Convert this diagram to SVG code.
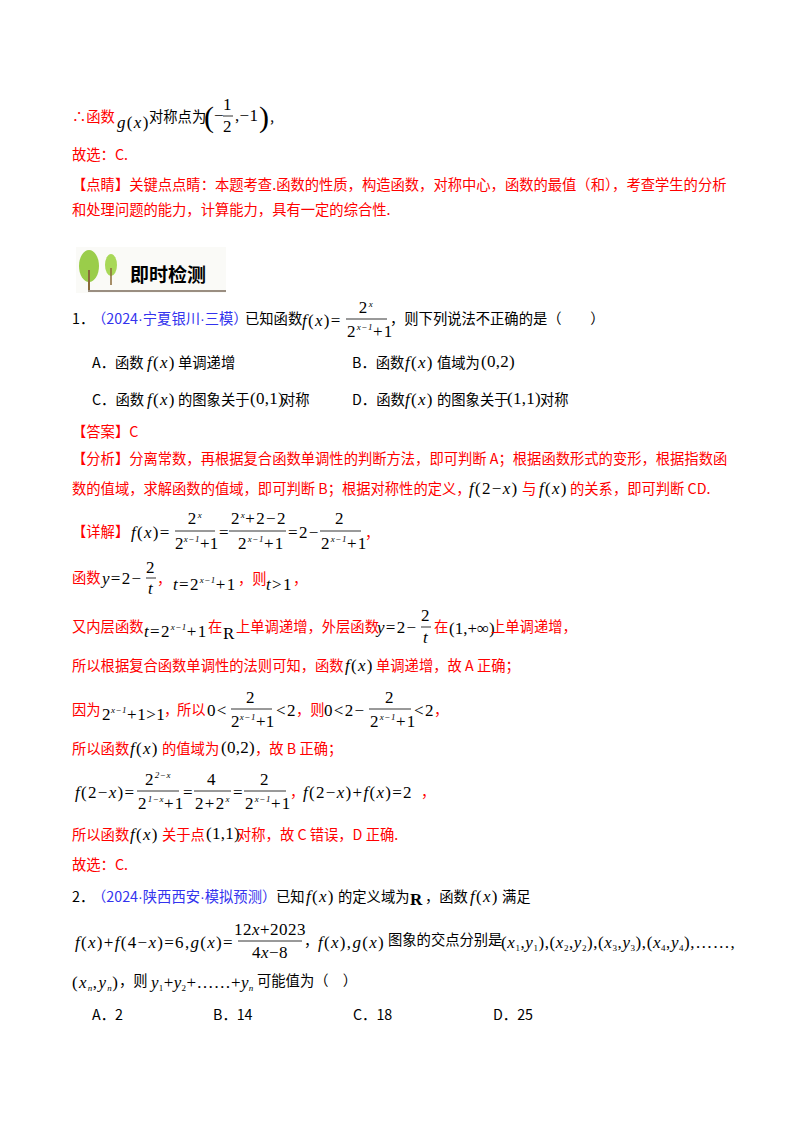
<svg xmlns="http://www.w3.org/2000/svg" width="800" height="1132" viewBox="0 0 800 1132">
<style>
text{font-family:"Noto Sans CJK SC","Liberation Sans",sans-serif;font-size:14.3px;fill:#000}
.r{fill:#ff0000}.b{fill:#3333ee}
.d{font-family:"Liberation Sans",sans-serif}
.m{font-family:"Liberation Serif",serif;font-style:italic;font-size:17px;letter-spacing:1.3px}
.n{font-family:"Liberation Serif",serif;font-style:normal;font-size:17px;letter-spacing:1.3px}
.t{letter-spacing:0.3px}
.up{font-size:9px;font-style:italic;letter-spacing:0.5px}
.c{text-anchor:middle}
.big{font-family:"Liberation Serif",serif;font-size:30px;font-weight:100}
line.f{stroke:#000;stroke-width:0.8}
</style>
<rect width="800" height="1132" fill="#fff"/>
<g id="top">
<text x="72" y="122" class="r">∴函数</text>
<text x="117" y="128" class="m">g<tspan class="n">(</tspan>x<tspan class="n">)</tspan></text>
<text x="149" y="122">对称点为</text>
<text x="204" y="127" class="big">(</text>
<text x="214" y="121" class="n t">−</text>
<text x="228" y="110" class="n c">1</text><line class="f" x1="223" y1="116" x2="233" y2="116"/><text x="228" y="132" class="n c">2</text>
<text x="235" y="121" class="n t">,−1</text>
<text x="259" y="127" class="big">)</text>
<text x="270" y="122">,</text>
<text x="72" y="160" class="r">故选：C.</text>
<text x="72" y="190" class="r">【点睛】关键点点睛：本题考查.函数的性质，构造函数，对称中心，函数的最值（和），考查学生的分析</text>
<text x="72" y="215" class="r">和处理问题的能力，计算能力，具有一定的综合性.</text>
</g>
<g id="header">
<rect x="76" y="247" width="150" height="46" fill="#fafaf7"/>
<ellipse cx="89" cy="266" rx="10" ry="16" fill="#9acd4a"/>
<line x1="89" y1="270" x2="89" y2="290" stroke="#8a6a3a" stroke-width="2"/>
<ellipse cx="111" cy="265" rx="6" ry="11" fill="#a8d858"/>
<line x1="111" y1="268" x2="111" y2="285" stroke="#8a6a3a" stroke-width="1.5"/>
<line x1="88" y1="291" x2="226" y2="291" stroke="#7a6a5a" stroke-width="1.5"/>
<text x="130" y="282" font-weight="bold" style="font-size:19px">即时检测</text>
</g>
<g id="q1">
<text x="72" y="324">1．</text>
<text x="92" y="324" class="b">（2024<tspan class="d">·</tspan>宁夏银川<tspan class="d">·</tspan>三模）</text>
<text x="245" y="324">已知函数</text>
<text x="302" y="326" class="m">f<tspan class="n">(</tspan>x<tspan class="n">)=</tspan></text>
<text x="366" y="313" class="n c">2<tspan class="up" dy="-6">x</tspan></text>
<line class="f" x1="346" y1="319" x2="387" y2="319"/>
<text x="347" y="337" class="n">2<tspan class="up" dy="-7">x−1</tspan><tspan dy="7">+1</tspan></text>
<text x="390" y="324">，则下列说法不正确的是（　　）</text>
<text x="92" y="368">A．函数</text>
<text x="147" y="368" class="m">f<tspan class="n">(</tspan>x<tspan class="n">)</tspan></text>
<text x="178" y="368">单调递增</text>
<text x="352" y="368">B．函数</text>
<text x="405" y="368" class="m">f<tspan class="n">(</tspan>x<tspan class="n">)</tspan></text>
<text x="437" y="368">值域为</text>
<text x="481" y="367" class="n t">(0,2)</text>
<text x="92" y="405">C．函数</text>
<text x="147" y="405" class="m">f<tspan class="n">(</tspan>x<tspan class="n">)</tspan></text>
<text x="178" y="405">的图象关于</text>
<text x="250" y="404" class="n t">(0,1)</text>
<text x="281" y="405">对称</text>
<text x="352" y="405">D．函数</text>
<text x="405" y="405" class="m">f<tspan class="n">(</tspan>x<tspan class="n">)</tspan></text>
<text x="437" y="405">的图象关于</text>
<text x="507" y="404" class="n t">(1,1)</text>
<text x="540" y="405">对称</text>
</g>
<g id="answer">
<text x="72" y="437" class="r">【答案】C</text>
<text x="72" y="464" class="r">【分析】分离常数，再根据复合函数单调性的判断方法，即可判断 A；根据函数形式的变形，根据指数函</text>
<text x="72" y="494" class="r">数的值域，求解函数的值域，即可判断 B；根据对称性的定义，</text>
<text x="469" y="494" class="m">f<tspan class="n">(2−</tspan>x<tspan class="n">)</tspan></text>
<text x="522" y="494" class="r">与</text>
<text x="539" y="494" class="m">f<tspan class="n">(</tspan>x<tspan class="n">)</tspan></text>
<text x="570" y="494" class="r">的关系，即可判断 CD.</text>

<text x="72" y="537" class="r">【详解】</text>
<text x="131" y="538" class="m">f<tspan class="n">(</tspan>x<tspan class="n">)=</tspan></text>
<text x="195" y="524" class="n c">2<tspan class="up" dy="-6">x</tspan></text>
<line class="f" x1="175" y1="531" x2="215" y2="531"/>
<text x="175" y="549" class="n t">2<tspan class="up" dy="-7">x−1</tspan><tspan dy="7">+1</tspan></text>
<text x="219" y="538" class="n">=</text>
<text x="231" y="524" class="n">2<tspan class="up" dy="-6">x</tspan><tspan dy="6">+2−2</tspan></text>
<line class="f" x1="229" y1="531" x2="286" y2="531"/>
<text x="238" y="549" class="n">2<tspan class="up" dy="-7">x−1</tspan><tspan dy="7">+1</tspan></text>
<text x="288" y="538" class="n">=2−</text>
<text x="340" y="524" class="n c">2</text>
<line class="f" x1="320" y1="531" x2="361" y2="531"/>
<text x="321" y="549" class="n">2<tspan class="up" dy="-7">x−1</tspan><tspan dy="7">+1</tspan></text>
<text x="365" y="538" class="r">，</text>

<text x="72" y="583" class="r">函数</text>
<text x="102" y="584" class="m">y<tspan class="n">=2−</tspan></text>
<text x="151" y="573" class="n c">2</text><line class="f" x1="146" y1="578" x2="156" y2="578"/><text x="151" y="594" class="m c">t</text>
<text x="157" y="584" class="r">，</text>
<text x="173" y="590" class="m">t<tspan class="n">=2</tspan><tspan class="up" dy="-7">x−1</tspan><tspan class="n" dy="7">+1</tspan></text>
<text x="238" y="584" class="r">，则</text>
<text x="266" y="590" class="m">t<tspan class="n">&gt;1</tspan></text>
<text x="293" y="584" class="r">，</text>

<text x="72" y="632" class="r">又内层函数</text>
<text x="144" y="637" class="m">t<tspan class="n">=2</tspan><tspan class="up" dy="-7">x−1</tspan><tspan class="n" dy="7">+1</tspan></text>
<text x="208" y="632" class="r">在</text>
<text x="223" y="639" class="n">R</text>
<text x="236" y="632" class="r">上单调递增，外层函数</text>
<text x="377" y="633" class="m">y<tspan class="n">=2−</tspan></text>
<text x="426" y="621" class="n c">2</text><line class="f" x1="421" y1="627" x2="431" y2="627"/><text x="426" y="643" class="m c">t</text>
<text x="434" y="632" class="r">在</text>
<text x="449" y="634" class="n" style="letter-spacing:0">(1,+∞)</text>
<text x="491" y="632" class="r">上单调递增，</text>

<text x="72" y="671" class="r">所以根据复合函数单调性的法则可知，函数</text>
<text x="345" y="671" class="m">f<tspan class="n">(</tspan>x<tspan class="n">)</tspan></text>
<text x="376" y="671" class="r">单调递增，故 A 正确；</text>

<text x="72" y="715" class="r">因为</text>
<text x="102" y="720" class="n" style="letter-spacing:0.5px">2<tspan class="up" dy="-7">x−1</tspan><tspan dy="7">+1&gt;1</tspan></text>
<text x="164" y="715" class="r">，</text>
<text x="177" y="715" class="r">所以</text>
<text x="207" y="716" class="n">0&lt;</text>
<text x="251" y="703" class="n c">2</text>
<line class="f" x1="231" y1="709" x2="272" y2="709"/>
<text x="231" y="727" class="n t">2<tspan class="up" dy="-7">x−1</tspan><tspan dy="7">+1</tspan></text>
<text x="276" y="716" class="n">&lt;2</text>
<text x="296" y="715" class="r">，则</text>
<text x="324" y="716" class="n">0&lt;2−</text>
<text x="390" y="703" class="n c">2</text>
<line class="f" x1="369" y1="709" x2="411" y2="709"/>
<text x="370" y="727" class="n">2<tspan class="up" dy="-7">x−1</tspan><tspan dy="7">+1</tspan></text>
<text x="414" y="716" class="n">&lt;2</text>
<text x="434" y="715" class="r">，</text>

<text x="72" y="754" class="r">所以函数</text>
<text x="130" y="754" class="m">f<tspan class="n">(</tspan>x<tspan class="n">)</tspan></text>
<text x="162" y="754" class="r">的值域为</text>
<text x="221" y="753" class="n t">(0,2)</text>
<text x="255" y="754" class="r">，故 B 正确；</text>

<text x="75" y="798" class="m">f<tspan class="n">(2−</tspan>x<tspan class="n">)=</tspan></text>
<text x="158" y="785" class="n c">2<tspan class="up" dy="-7">2−x</tspan></text>
<line class="f" x1="137" y1="791" x2="179" y2="791"/>
<text x="138" y="809" class="n">2<tspan class="up" dy="-7">1−x</tspan><tspan dy="7">+1</tspan></text>
<text x="183" y="798" class="n">=</text>
<text x="212" y="785" class="n c">4</text>
<line class="f" x1="194" y1="791" x2="231" y2="791"/>
<text x="195" y="809" class="n">2+2<tspan class="up" dy="-7">x</tspan></text>
<text x="233" y="798" class="n">=</text>
<text x="265" y="785" class="n c">2</text>
<line class="f" x1="244" y1="791" x2="286" y2="791"/>
<text x="245" y="809" class="n">2<tspan class="up" dy="-7">x−1</tspan><tspan dy="7">+1</tspan></text>
<text x="290" y="797" class="r">，</text>
<text x="303" y="798" class="m">f<tspan class="n">(2−</tspan>x<tspan class="n">)+</tspan>f<tspan class="n">(</tspan>x<tspan class="n">)=2</tspan></text>
<text x="421" y="797" class="r">，</text>

<text x="72" y="840" class="r">所以函数</text>
<text x="130" y="840" class="m">f<tspan class="n">(</tspan>x<tspan class="n">)</tspan></text>
<text x="162" y="840" class="r">关于点</text>
<text x="206" y="839" class="n t">(1,1)</text>
<text x="237" y="840" class="r">对称，故 C 错误，D 正确.</text>
<text x="72" y="870" class="r">故选：C.</text>
</g>
<g id="q2">
<text x="72" y="902">2．</text>
<text x="92" y="902" class="b">（2024<tspan class="d">·</tspan>陕西西安<tspan class="d">·</tspan>模拟预测）</text>
<text x="276" y="902">已知</text>
<text x="306" y="902" class="m">f<tspan class="n">(</tspan>x<tspan class="n">)</tspan></text>
<text x="338" y="902">的定义域为</text>
<text x="410" y="905" class="n" font-weight="bold">R</text>
<text x="425" y="902">，函数</text>
<text x="470" y="902" class="m">f<tspan class="n">(</tspan>x<tspan class="n">)</tspan></text>
<text x="502" y="902">满足</text>

<text x="75" y="948" class="m">f<tspan class="n">(</tspan>x<tspan class="n">)+</tspan>f<tspan class="n">(4−</tspan>x<tspan class="n">)=6,</tspan>g<tspan class="n">(</tspan>x<tspan class="n">)=</tspan></text>
<text x="270" y="935" class="n c" style="letter-spacing:0.5px">12<tspan class="m" style="letter-spacing:0.5px">x</tspan>+2023</text>
<line class="f" x1="238" y1="941" x2="302" y2="941"/>
<text x="270" y="958" class="n c" style="letter-spacing:0.5px">4<tspan class="m" style="letter-spacing:0.5px">x</tspan>−8</text>
<text x="304" y="946">，</text>
<text x="318" y="948" class="m">f<tspan class="n">(</tspan>x<tspan class="n">),</tspan>g<tspan class="n">(</tspan>x<tspan class="n">)</tspan></text>
<text x="388" y="945">图象的交点分别是</text>
<text x="501" y="948" class="m" style="letter-spacing:0.6px"><tspan class="n" style="letter-spacing:0.6px">(</tspan>x<tspan class="up" dy="3" style="font-style:normal">1</tspan><tspan class="n" dy="-3" style="letter-spacing:0.6px">,</tspan>y<tspan class="up" dy="3" style="font-style:normal">1</tspan><tspan class="n" dy="-3" style="letter-spacing:0.6px">),(</tspan>x<tspan class="up" dy="3" style="font-style:normal">2</tspan><tspan class="n" dy="-3" style="letter-spacing:0.6px">,</tspan>y<tspan class="up" dy="3" style="font-style:normal">2</tspan><tspan class="n" dy="-3" style="letter-spacing:0.6px">),(</tspan>x<tspan class="up" dy="3" style="font-style:normal">3</tspan><tspan class="n" dy="-3" style="letter-spacing:0.6px">,</tspan>y<tspan class="up" dy="3" style="font-style:normal">3</tspan><tspan class="n" dy="-3" style="letter-spacing:0.6px">),(</tspan>x<tspan class="up" dy="3" style="font-style:normal">4</tspan><tspan class="n" dy="-3" style="letter-spacing:0.6px">,</tspan>y<tspan class="up" dy="3" style="font-style:normal">4</tspan><tspan class="n" dy="-3" style="letter-spacing:0.6px">),……,</tspan></text>

<text x="72" y="988" class="m"><tspan class="n">(</tspan>x<tspan class="up" dy="3">n</tspan><tspan class="n" dy="-3">,</tspan>y<tspan class="up" dy="3">n</tspan><tspan class="n" dy="-3">)</tspan></text>
<text x="119" y="986">，则</text>
<text x="151" y="988" class="m" style="letter-spacing:0.3px">y<tspan class="up" dy="3" style="font-style:normal">1</tspan><tspan class="n t" dy="-3">+</tspan>y<tspan class="up" dy="3" style="font-style:normal">2</tspan><tspan class="n t" dy="-3">+……+</tspan>y<tspan class="up" dy="3">n</tspan></text>
<text x="257" y="986">可能值为（　）</text>

<text x="92" y="1020">A．2</text>
<text x="213" y="1020">B．14</text>
<text x="353" y="1020">C．18</text>
<text x="493" y="1020">D．25</text>
</g>
</svg>
